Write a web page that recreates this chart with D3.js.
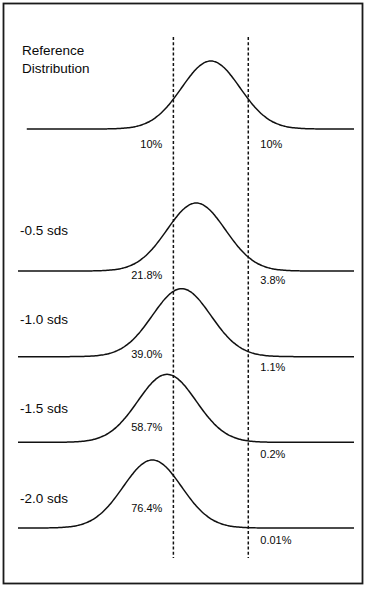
<!DOCTYPE html>
<html>
<head>
<meta charset="utf-8">
<script src="https://cdn.jsdelivr.net/npm/d3@7"></script>
<style>
  body { margin: 0; background: #fff; }
  text { font-family: "Liberation Sans", Arial, Helvetica, sans-serif; fill: #0a0a0a; }
</style>
</head>
<body>
<div class="chart"></div>
<script>
// rows: reference first, then the shifted distributions
var rowLabels = [["Reference", "Distribution"], ["-0.5 sds"], ["-1.0 sds"], ["-1.5 sds"], ["-2.0 sds"]];
var shifts = [0, -0.5, -1.0, -1.5, -2.0];
var lowerTail = ["10%", "21.8%", "39.0%", "58.7%", "76.4%"];
var upperTail = ["10%", "3.8%", "1.1%", "0.2%", "0.01%"];
var cutoffs = [-1.2816, 1.2816];

var width = 367, height = 600;

// layout nudges for the tail labels (px, relative to each baseline)
var lowerDy = [19, 8, 1, -11, -16];
var upperDy = [19, 13, 14, 16, 16];

var svg = d3.select(".chart")
  .append("svg")
  .attr("width", width)
  .attr("height", height);

// frame
svg.append("rect")
  .attr("x", 3.5).attr("y", 3.5)
  .attr("width", 359).attr("height", 580)
  .attr("fill", "none")
  .attr("stroke", "#1a1a1a")
  .attr("stroke-width", 1.8);

// x in sd units
var x = d3.scaleLinear().domain([-6.6, 4.9]).range([18, 354]);

function pdf(z) {
  return Math.exp(-z * z / 2) / Math.sqrt(2 * Math.PI);
}

var h = d3.scaleLinear().domain([0, pdf(0)]).range([0, 68]);

var rowY = d3.scaleLinear().domain([1, 4]).range([271, 528]);
function baseline(i) {
  return i == 0 ? 129 : rowY(i);
}

// dashed cut-off lines
svg.selectAll(".cut")
  .data(cutoffs)
  .enter()
  .append("line")
  .attr("class", "cut")
  .attr("x1", function (d) { return x(d); })
  .attr("x2", function (d) { return x(d); })
  .attr("y1", 37)
  .attr("y2", 558)
  .attr("stroke", "#111")
  .attr("stroke-width", 1.5)
  .attr("stroke-dasharray", "3,2.2");

var line = d3.line()
  .x(function (d) { return x(d[0]); })
  .y(function (d) { return d[1]; })
  .curve(d3.curveBasis);

var rows = svg.selectAll(".row")
  .data(shifts)
  .enter()
  .append("g")
  .attr("class", "row");

rows.append("path")
  .attr("fill", "none")
  .attr("stroke", "#111")
  .attr("stroke-width", 1.5)
  .attr("d", function (m, i) {
    var start = i == 0 ? -6.3 : -6.6;
    var pts = d3.range(start, 4.9001, 0.05).map(function (z) {
      return [z, baseline(i) - h(pdf(z - m))];
    });
    return line(pts);
  });

// row labels
rows.append("text")
  .attr("x", function (m, i) { return i == 0 ? 22 : 20; })
  .attr("y", function (m, i) { return i == 0 ? 55 : baseline(i) - 36 + 3.5 * (i - 1); })
  .style("font-size", "13.5px")
  .each(function (m, i) {
    var t = d3.select(this);
    rowLabels[i].forEach(function (s, k) {
      t.append("tspan")
        .attr("x", t.attr("x"))
        .attr("dy", k == 0 ? 0 : 18)
        .text(s);
    });
  });

// tail percentages
rows.append("text")
  .attr("x", x(cutoffs[0]) - 11)
  .attr("y", function (m, i) { return baseline(i) + lowerDy[i]; })
  .attr("text-anchor", "end")
  .style("font-size", "11px")
  .text(function (m, i) { return lowerTail[i]; });

rows.append("text")
  .attr("x", x(cutoffs[1]) + 12)
  .attr("y", function (m, i) { return baseline(i) + upperDy[i]; })
  .style("font-size", "11px")
  .text(function (m, i) { return upperTail[i]; });
</script>
</body>
</html>
